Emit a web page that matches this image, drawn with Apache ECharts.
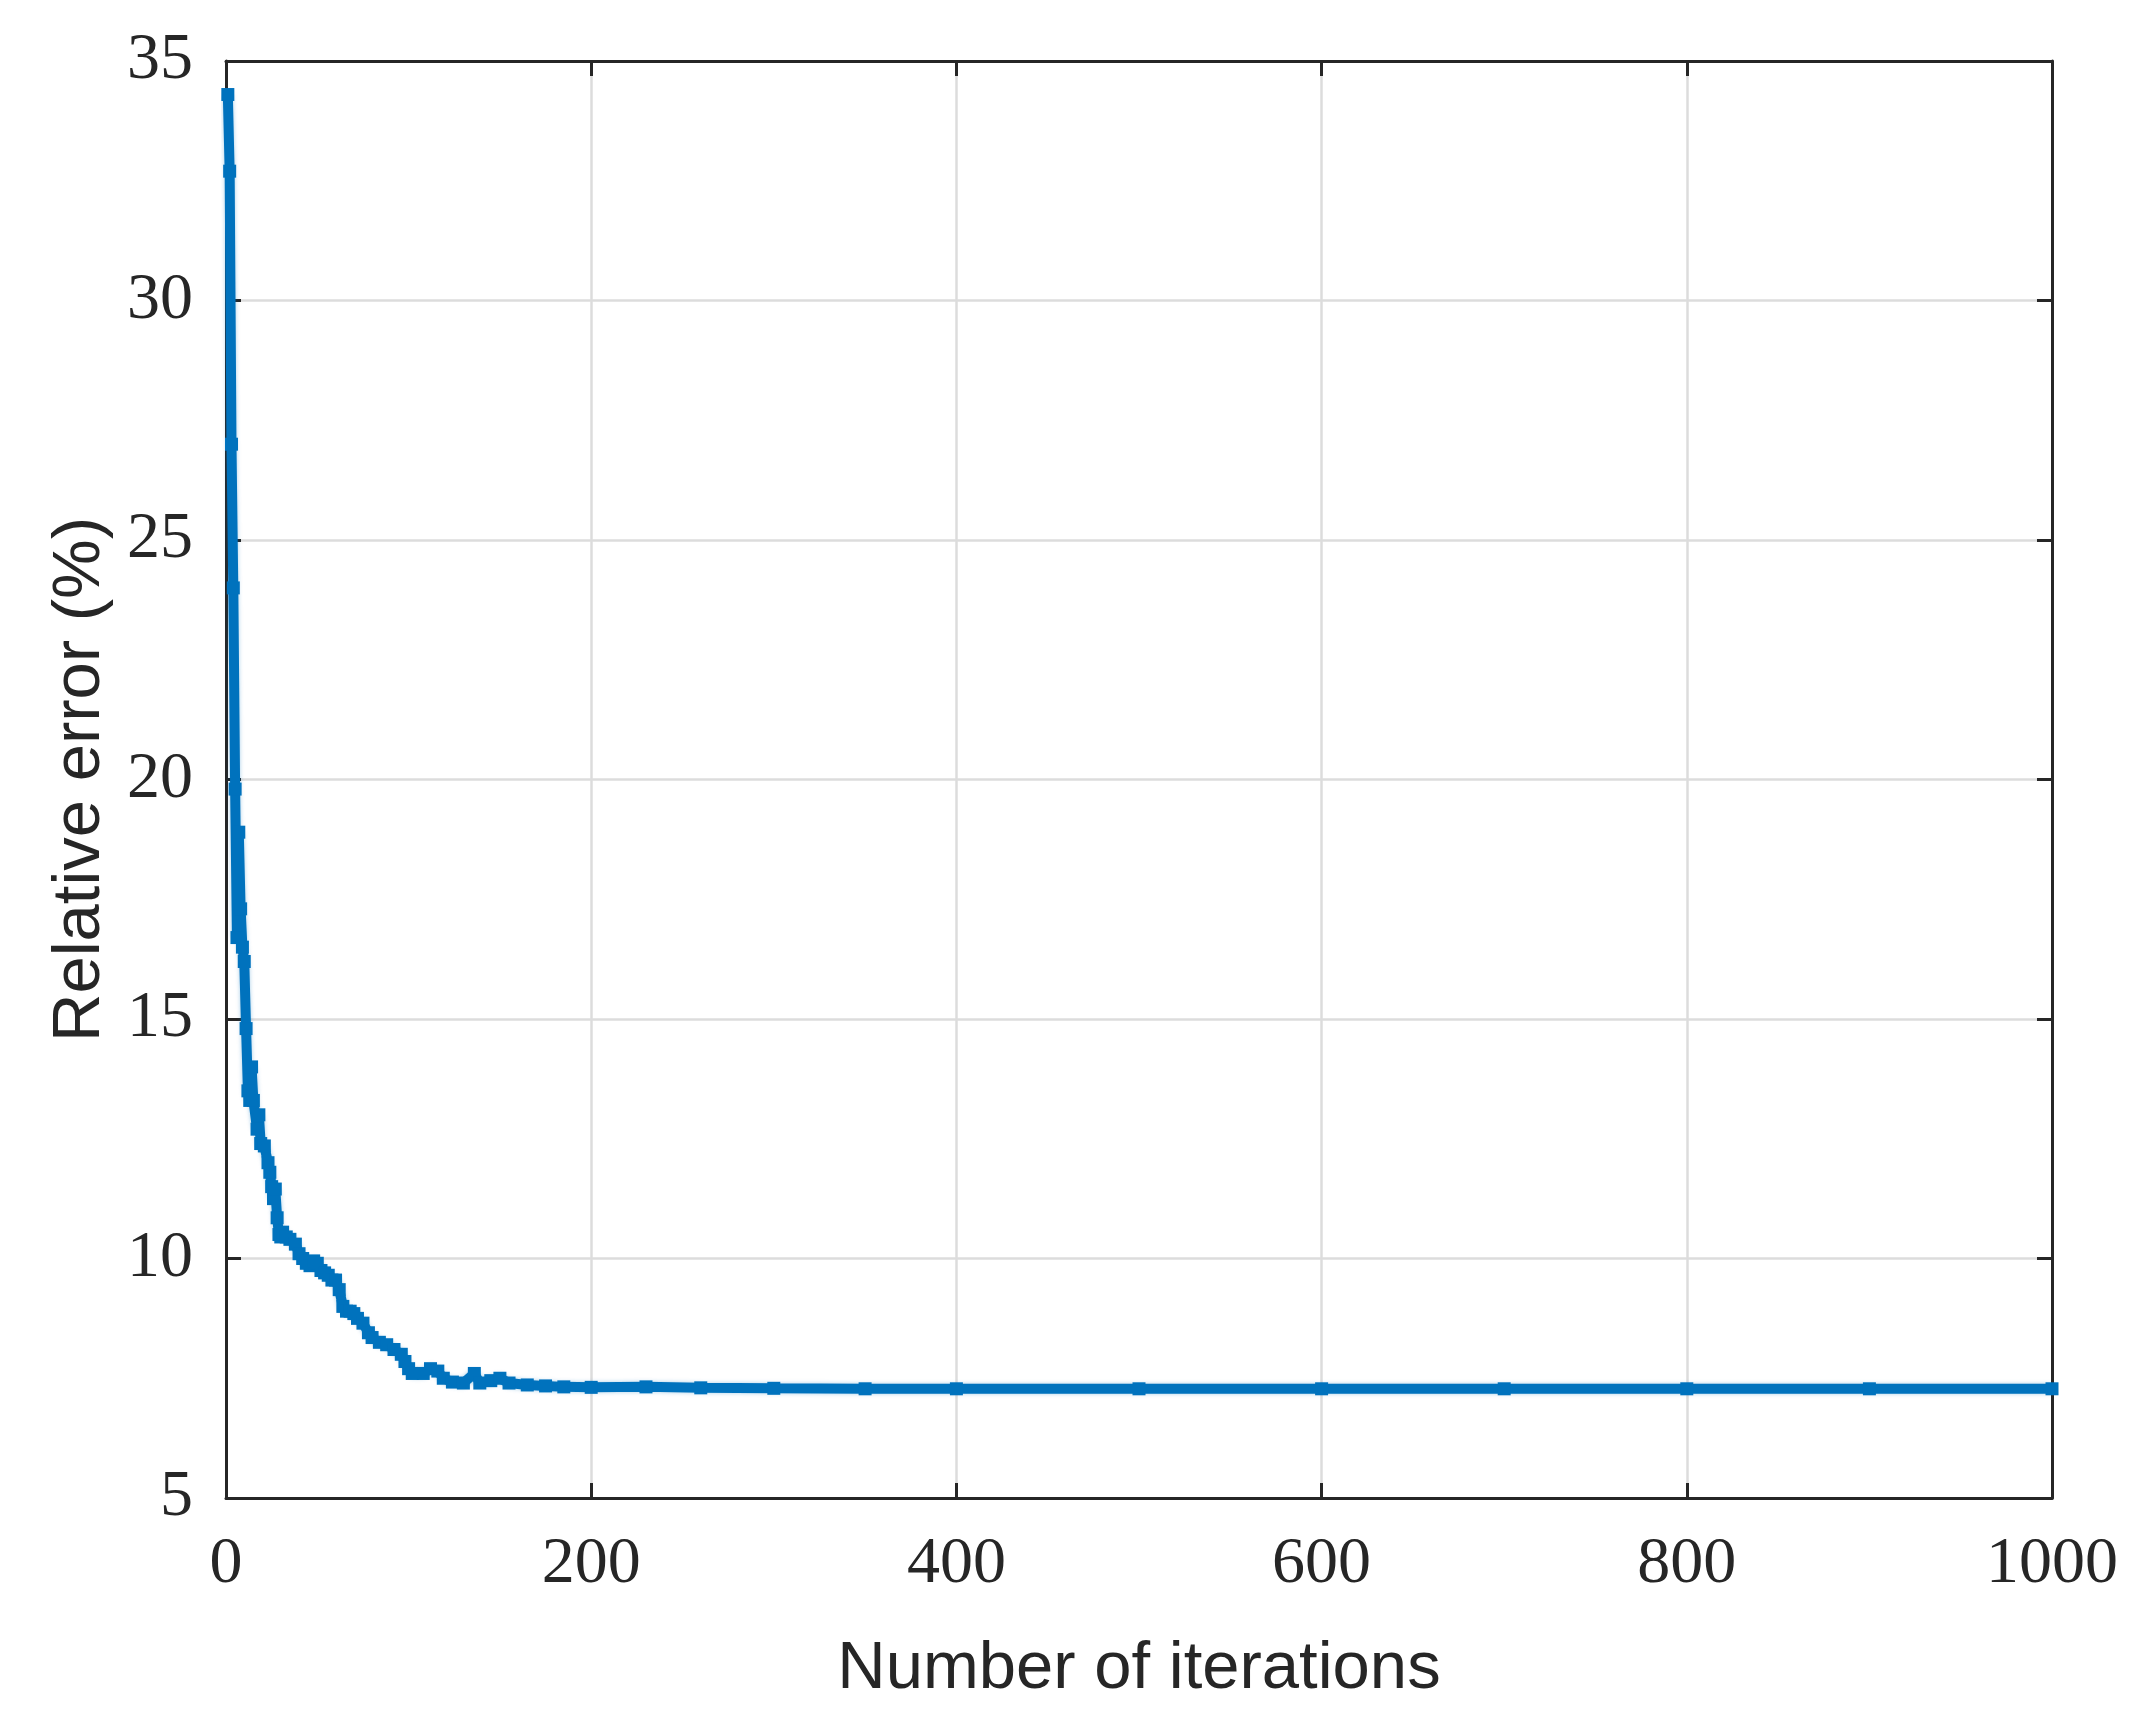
<!DOCTYPE html>
<html>
<head>
<meta charset="utf-8">
<title>Relative error vs iterations</title>
<script src="https://cdn.jsdelivr.net/npm/echarts@6/dist/echarts.min.js"></script>
<style>
    html, body { margin: 0; padding: 0; background: #fff; }
    #main { width: 2147px; height: 1720px; }
</style>
</head>
<body>
<div id="main"></div>
<script>
// iteration numbers and relative error (%)
var iterations = [1, 2, 3, 4, 5, 6, 7, 8, 9, 10,
    11, 12, 13, 14, 15, 17, 18, 19, 21, 23,
    24, 25, 26, 27, 28, 29, 30, 31, 33, 35,
    38, 40, 42, 44, 46, 48, 50, 52, 54, 56,
    58, 60, 62, 64, 66, 68, 70, 72, 75, 78,
    80, 84, 88, 92, 96, 98, 100, 102, 108, 112,
    116, 119, 124, 130, 136, 139, 145, 150, 155, 165,
    175, 185, 200, 230, 260, 300, 350, 400, 500, 600,
    700, 800, 900, 1000]
var relErrors = [34.3, 32.7, 27.0, 24.0, 19.8, 16.7, 18.9, 17.3, 16.5, 16.2,
    14.8, 13.5, 13.3, 14.0, 13.3, 12.7, 13.0, 12.4, 12.35, 12.0,
    11.8, 11.5, 11.25, 11.45, 10.85, 10.5, 10.45, 10.55, 10.45, 10.4,
    10.3, 10.1, 10.0, 9.9, 9.85, 9.95, 9.9, 9.75, 9.7, 9.65,
    9.55, 9.55, 9.35, 9.0, 8.9, 8.9, 8.85, 8.75, 8.65, 8.45,
    8.35, 8.25, 8.2, 8.1, 8.0, 7.85, 7.7, 7.6, 7.6, 7.7,
    7.65, 7.5, 7.42, 7.4, 7.6, 7.4, 7.45, 7.5, 7.4, 7.36,
    7.34, 7.32, 7.31, 7.32, 7.3, 7.29, 7.28, 7.28, 7.28, 7.28,
    7.28, 7.28, 7.28, 7.28]

var xTicks = [0, 200, 400, 600, 800, 1000]
var yTicks = [5, 10, 15, 20, 25, 30, 35]

var points = []
for (var i = 0; i < iterations.length; i++) {
    points.push([iterations[i], relErrors[i]])
}

var axisColor = '#262626'
var tickFont = 'Liberation Serif'
var titleFont = 'Liberation Sans'

var myChart = echarts.init(document.getElementById('main'))

// common look for the box axes
function boxAxis(extra) {
    var a = {
        type: 'value',
        axisLine: { show: true, onZero: false, lineStyle: { color: axisColor, width: 3 } },
        axisTick: { show: true, inside: true, length: 15, lineStyle: { color: axisColor, width: 3 } },
        axisLabel: { show: false },
        splitLine: { show: false }
    }
    for (var k in extra) a[k] = extra[k]
    return a
}

myChart.setOption({
    backgroundColor: '#ffffff',
    animation: false,
    grid: { left: 226, right: 95, top: 61, bottom: 222, containLabel: false },
    xAxis: [
        boxAxis({
            position: 'bottom',
            min: xTicks[0], max: xTicks[xTicks.length - 1], interval: 200,
            name: 'Number of iterations',
            nameLocation: 'middle',
            nameGap: 138,
            nameTextStyle: { fontFamily: titleFont, fontSize: 67, color: axisColor },
            axisLabel: {
                show: true, margin: 34, fontFamily: tickFont, fontSize: 66, color: axisColor,
                formatter: function (v) { return String(v) }
            },
            splitLine: { show: true, lineStyle: { color: '#dcdcdc', width: 2.5 } }
        }),
        boxAxis({
            position: 'top',
            min: xTicks[0], max: xTicks[xTicks.length - 1], interval: 200
        })
    ],
    yAxis: [
        boxAxis({
            position: 'left',
            min: yTicks[0], max: yTicks[yTicks.length - 1], interval: 5,
            name: 'Relative error (%)',
            nameLocation: 'middle',
            nameGap: 112,
            nameTextStyle: { fontFamily: titleFont, fontSize: 67, color: axisColor },
            axisLabel: {
                show: true, margin: 33, fontFamily: tickFont, fontSize: 66, color: axisColor,
                formatter: function (v) { return String(v) }
            },
            splitLine: { show: true, lineStyle: { color: '#dcdcdc', width: 2.5 } }
        }),
        boxAxis({
            position: 'right',
            min: yTicks[0], max: yTicks[yTicks.length - 1], interval: 5
        })
    ],
    series: [{
        type: 'line',
        data: points,
        xAxisIndex: 0,
        yAxisIndex: 0,
        symbol: 'rect',
        symbolSize: 13,
        showSymbol: true,
        clip: false,
        itemStyle: { color: '#0072BD' },
        lineStyle: {
            color: '#0072BD',
            width: 10,
            shadowColor: 'rgba(0,114,189,0.35)',
            shadowBlur: 4
        },
        z: 3
    }]
})
</script>
</body>
</html>
